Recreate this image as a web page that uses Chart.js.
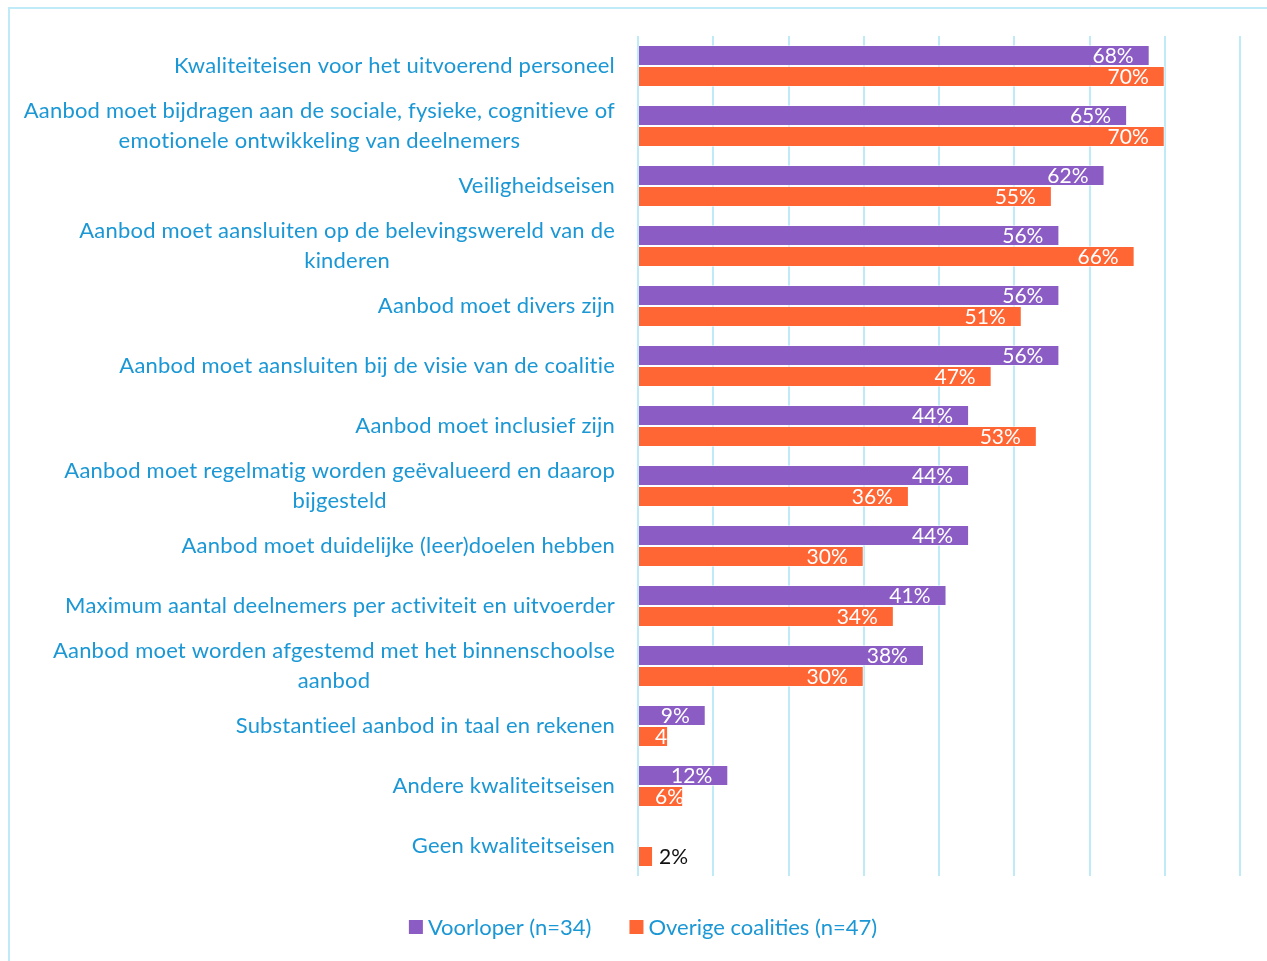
<!DOCTYPE html>
<html lang="nl">
<head>
  <meta charset="UTF-8" />
  <title>Kwaliteitseisen</title>
  <script src="https://cdn.jsdelivr.net/npm/chart.js"></script>
  <style>
    body { margin: 0; background: #fff; }
    #wrap { position: relative; width: 1267px; height: 961px; }
    #frame { position: absolute; left: 8px; top: 7px; right: 0; bottom: 0;
             border-left: 2px solid #bfeaf7; border-top: 2px solid #bfeaf7; }
    canvas { position: absolute; left: 0; top: 0; }
  </style>
</head>
<body>
  <div id="wrap">
    <div id="frame"></div>
    <canvas id="chart" width="1267" height="961"></canvas>
  </div>

  <script>
    const categories = [
      'Kwaliteiteisen voor het uitvoerend personeel',
      ['Aanbod moet bijdragen aan de sociale, fysieke, cognitieve of', 'emotionele ontwikkeling van deelnemers'],
      'Veiligheidseisen',
      ['Aanbod moet aansluiten op de belevingswereld van de', 'kinderen'],
      'Aanbod moet divers zijn',
      'Aanbod moet aansluiten bij de visie van de coalitie',
      'Aanbod moet inclusief zijn',
      ['Aanbod moet regelmatig worden geëvalueerd en daarop', 'bijgesteld'],
      'Aanbod moet duidelijke (leer)doelen hebben',
      'Maximum aantal deelnemers per activiteit en uitvoerder',
      ['Aanbod moet worden afgestemd met het binnenschoolse', 'aanbod'],
      'Substantieel aanbod in taal en rekenen',
      'Andere kwaliteitseisen',
      'Geen kwaliteitseisen'
    ];
    const voorloper = [68, 65, 62, 56, 56, 56, 44, 44, 44, 41, 38, 9, 12, null];
    const overige   = [70, 70, 55, 66, 51, 47, 53, 36, 30, 34, 30, 4, 6, 2];

    const BLUE = '#1a97d4';
    const FONT = 'Lato, "Open Sans", sans-serif';

    // category labels: block right-aligned, lines centred within the block
    const categoryLabels = {
      id: 'categoryLabels',
      afterDraw(chart) {
        const ctx = chart.ctx;
        const y = chart.scales.y;
        ctx.save();
        ctx.font = '22px ' + FONT;
        ctx.letterSpacing = '0.2px';
        ctx.fillStyle = BLUE;
        ctx.textAlign = 'center';
        ctx.textBaseline = 'middle';
        const right = 615, lh = 30;
        chart.data.labels.forEach((lab, i) => {
          const lines = Array.isArray(lab) ? lab : [lab];
          const maxW = Math.max(...lines.map(l => ctx.measureText(l).width));
          const cx = right - maxW / 2;
          const cy = y.getPixelForValue(i);
          lines.forEach((l, k) => {
            ctx.fillText(l, cx, cy + (k - (lines.length - 1) / 2) * lh);
          });
        });
        ctx.restore();
      }
    };

    // labels at the inside end of each bar, like the original
    const barLabels = {
      id: 'barLabels',
      afterDatasetsDraw(chart) {
        const ctx = chart.ctx;
        ctx.save();
        ctx.font = '21px ' + FONT;
        ctx.textBaseline = 'middle';
        ctx.textAlign = 'left';
        chart.data.datasets.forEach((ds, di) => {
          chart.getDatasetMeta(di).data.forEach((bar, i) => {
            const v = ds.data[i];
            if (v == null) return;
            const txt = v + '%';
            const w = ctx.measureText(txt).width;
            const base = bar.base, end = bar.x;
            let x;
            if (v <= 2) {
              ctx.fillStyle = '#111';
              x = end + 6;
            } else {
              ctx.fillStyle = '#fff';
              x = Math.max(end - 16 - w, base + 16);
            }
            ctx.fillText(txt, x, bar.y + 1);
          });
        });
        ctx.restore();
      }
    };

    // legend below the plot, centred like the original
    const bottomLegend = {
      id: 'bottomLegend',
      afterDraw(chart) {
        const ctx = chart.ctx;
        ctx.save();
        ctx.font = '22px ' + FONT;
        ctx.textBaseline = 'middle';
        const items = chart.data.datasets.map(ds => ({
          text: ds.label, color: ds.backgroundColor, w: ctx.measureText(ds.label).width
        }));
        const box = 14, gap = 5, between = 38;
        let total = 0;
        items.forEach((it, i) => { total += box + gap + it.w + (i ? between : 0); });
        let x = 643 - total / 2;
        const y = 927;
        items.forEach(it => {
          ctx.fillStyle = it.color;
          ctx.fillRect(x, y - box / 2, box, box);
          x += box + gap;
          ctx.fillStyle = BLUE;
          ctx.fillText(it.text, x, y + 1);
          x += it.w + between;
        });
        ctx.restore();
      }
    };

    new Chart(document.getElementById('chart'), {
      type: 'bar',
      data: {
        labels: categories,
        datasets: [
          {
            label: 'Voorloper (n=34)',
            data: voorloper,
            backgroundColor: '#8a5cc4',
            borderColor: 'rgba(255,255,255,0.5)',
            borderWidth: 1,
            categoryPercentage: 0.7,
            barPercentage: 1.0
          },
          {
            label: 'Overige coalities (n=47)',
            data: overige,
            backgroundColor: '#ff6633',
            borderColor: 'rgba(255,255,255,0.5)',
            borderWidth: 1,
            categoryPercentage: 0.7,
            barPercentage: 1.0
          }
        ]
      },
      options: {
        indexAxis: 'y',
        responsive: false,
        animation: false,
        layout: { padding: { top: 36, right: 27, bottom: 85, left: 0 } },
        plugins: {
          tooltip: { enabled: false },
          legend: { display: false }
        },
        scales: {
          x: {
            min: 0,
            max: 80,
            ticks: { stepSize: 10, display: false },
            grid: { color: '#bfeaf7', lineWidth: 2, drawTicks: false },
            border: { display: false },
            afterFit(scale) { scale.height = 0; }
          },
          y: {
            ticks: { display: false },
            grid: { display: false },
            border: { display: false },
            afterFit(scale) { scale.width = 638; }
          }
        }
      },
      plugins: [barLabels, categoryLabels, bottomLegend]
    });
  </script>
</body>
</html>
